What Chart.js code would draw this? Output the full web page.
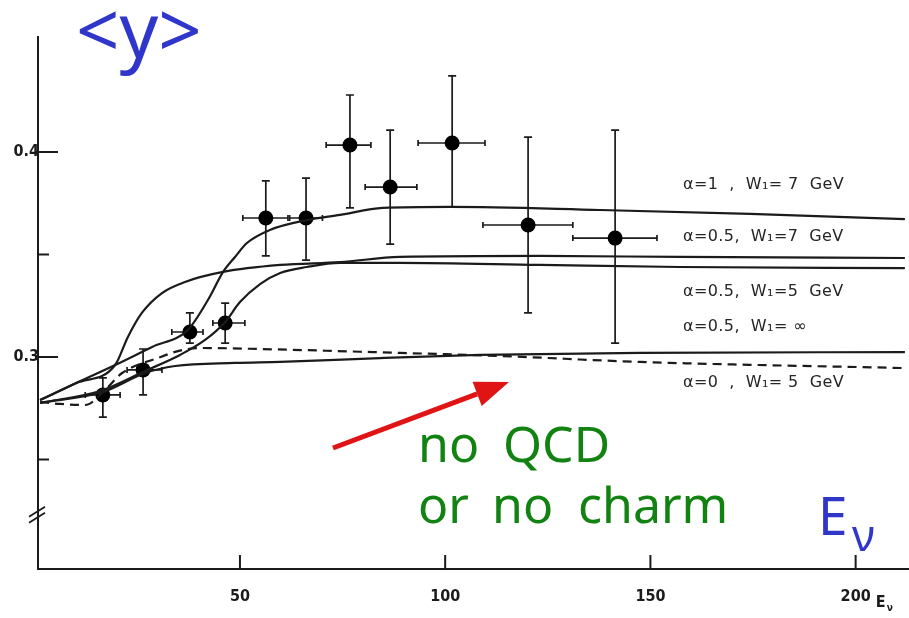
<!DOCTYPE html>
<html>
<head>
<meta charset="utf-8">
<script src="https://cdn.jsdelivr.net/npm/chart.js@4.4.1/dist/chart.umd.min.js"></script>
<style>
  html, body { margin: 0; padding: 0; background: #fff; }
  #wrap { width: 909px; height: 618px; position: relative; }
</style>
</head>
<body>
<div id="wrap"><canvas id="chart"></canvas></div>
<script>
// ===== Data =====
const xTicks = [50, 100, 150, 200];
const yTicks = [0.3, 0.4];
const yMinorTicks = [0.25, 0.35];
const yBreakValue = 0.2245;

// measured <y> points with their error bars
const pointE = [16.6, 26.4, 37.8, 46.4, 56.3, 66.1, 76.8, 86.6, 101.7, 120.2, 141.4];
const pointY = [0.2815, 0.2937, 0.3122, 0.3166, 0.3678, 0.3678, 0.4034, 0.3829, 0.4044, 0.3644, 0.3580];
const errYLow = [0.2707, 0.2815, 0.3068, 0.3068, 0.3493, 0.3473, 0.3727, 0.3551, 0.3732, 0.3215, 0.3068];
const errYHigh = [0.2898, 0.3039, 0.3215, 0.3263, 0.3859, 0.3873, 0.4278, 0.4107, 0.4371, 0.4073, 0.4107];
const errELow = [12.3, 22.5, 33.4, 43.4, 50.7, 62.1, 71.0, 80.5, 93.4, 109.2, 131.1];
const errEHigh = [20.8, 31.0, 41.0, 51.2, 61.7, 70.1, 81.9, 93.1, 109.7, 131.1, 151.6];

// model curves
const alpha1W7E = [1.3, 10.0, 19.6, 28.6, 37.3, 42.2, 45.9, 48.8, 51.7, 57.3, 66.3, 74.4, 84.8, 101.2, 137.7, 174.3, 212.0];
const alpha1W7Y = [0.2790, 0.2872, 0.2961, 0.3049, 0.3132, 0.3278, 0.3415, 0.3488, 0.3556, 0.3620, 0.3668, 0.3693, 0.3727, 0.3732, 0.3717, 0.3698, 0.3673];

const alpha05W7E = [1.3, 10.0, 19.6, 22.7, 26.1, 31.0, 36.6, 45.9, 59.8, 74.4, 89.0, 123.1, 157.2, 212.0];
const alpha05W7Y = [0.2790, 0.2872, 0.2961, 0.3098, 0.3215, 0.3312, 0.3366, 0.3415, 0.3449, 0.3463, 0.3488, 0.3493, 0.3488, 0.3483];

const alpha05W5E = [1.3, 15.9, 26.9, 35.4, 41.5, 46.4, 50.0, 54.9, 59.8, 66.3, 74.4, 89.0, 123.1, 157.2, 212.0];
const alpha05W5Y = [0.2776, 0.2834, 0.2932, 0.3010, 0.3083, 0.3171, 0.3268, 0.3356, 0.3410, 0.3439, 0.3459, 0.3459, 0.3449, 0.3439, 0.3434];

const alpha05WinfE = [1.3, 6.2, 12.3, 17.1, 21.3, 30.0, 35.9, 40.8, 54.9, 89.0, 113.4, 147.5, 212.0];
const alpha05WinfY = [0.2780, 0.2771, 0.2766, 0.2839, 0.2922, 0.2995, 0.3034, 0.3044, 0.3039, 0.3020, 0.3005, 0.2976, 0.2946];

const alpha0W5E = [1.3, 16.6, 26.9, 34.2, 48.8, 59.8, 84.1, 108.5, 147.5, 212.0];
const alpha0W5Y = [0.2776, 0.2829, 0.2922, 0.2956, 0.2971, 0.2976, 0.2995, 0.3010, 0.3020, 0.3024];

const curveLabels = [
  { text: 'α=1  ,  W₁= 7  GeV', x: 683, y: 185 },
  { text: 'α=0.5,  W₁=7  GeV', x: 683, y: 237 },
  { text: 'α=0.5,  W₁=5  GeV', x: 683, y: 292 },
  { text: 'α=0.5,  W₁= ∞', x: 683, y: 327 },
  { text: 'α=0  ,  W₁= 5  GeV', x: 683, y: 383 },
];

const INK = '#1b1b1b';
const BLUE = '#2f36c9';
const GREEN = '#128212';
const RED = '#e01414';
const SCAN_FONT = '"DejaVu Sans Condensed", "Liberation Sans Narrow", "DejaVu Sans", sans-serif';

function toPoints(xs, ys) {
  return xs.map((x, i) => ({ x, y: ys[i] }));
}

function curveDataset(label, xs, ys, dash) {
  return {
    label,
    data: toPoints(xs, ys),
    showLine: true,
    borderColor: INK,
    borderWidth: 2.2,
    borderDash: dash || [],
    pointRadius: 0,
    fill: false,
    cubicInterpolationMode: 'monotone',
  };
}

// ===== Extra drawing: error bars, inner ticks, annotations =====
const scanDecor = {
  id: 'scanDecor',
  beforeDatasetsDraw(chart) {
    const { ctx, scales: { x, y } } = chart;
    ctx.save();
    ctx.strokeStyle = INK;
    ctx.lineWidth = 1.7;
    pointE.forEach((e, i) => {
      const px = x.getPixelForValue(e);
      const py = y.getPixelForValue(pointY[i]);
      const yTop = y.getPixelForValue(errYHigh[i]);
      const yBot = y.getPixelForValue(errYLow[i]);
      const xL = x.getPixelForValue(errELow[i]);
      const xR = x.getPixelForValue(errEHigh[i]);
      ctx.beginPath();
      ctx.moveTo(px, yTop); ctx.lineTo(px, yBot);
      ctx.moveTo(px - 4, yTop); ctx.lineTo(px + 4, yTop);
      ctx.moveTo(px - 4, yBot); ctx.lineTo(px + 4, yBot);
      ctx.moveTo(xL, py); ctx.lineTo(xR, py);
      ctx.moveTo(xL, py - 3); ctx.lineTo(xL, py + 3);
      ctx.moveTo(xR, py - 3); ctx.lineTo(xR, py + 3);
      ctx.stroke();
    });
    ctx.restore();
  },
  afterDraw(chart) {
    const { ctx, chartArea, scales: { x, y } } = chart;
    ctx.save();
    ctx.strokeStyle = INK;
    ctx.lineWidth = 2;

    // ticks pointing into the plot
    ctx.beginPath();
    xTicks.forEach((v) => {
      const px = x.getPixelForValue(v);
      ctx.moveTo(px, chartArea.bottom);
      ctx.lineTo(px, chartArea.bottom - 14);
    });
    yTicks.forEach((v) => {
      const py = y.getPixelForValue(v);
      ctx.moveTo(chartArea.left - 3, py);
      ctx.lineTo(chartArea.left + 20, py);
    });
    yMinorTicks.forEach((v) => {
      const py = y.getPixelForValue(v);
      ctx.moveTo(chartArea.left, py);
      ctx.lineTo(chartArea.left + 11, py);
    });
    ctx.stroke();

    // axis break
    const pb = y.getPixelForValue(yBreakValue);
    ctx.lineWidth = 1.8;
    ctx.beginPath();
    ctx.moveTo(chartArea.left - 9, pb + 5); ctx.lineTo(chartArea.left + 7, pb - 5);
    ctx.moveTo(chartArea.left - 9, pb + 11); ctx.lineTo(chartArea.left + 7, pb + 1);
    ctx.stroke();

    // E_nu next to the 200 tick label
    const p200 = x.getPixelForValue(200);
    ctx.fillStyle = INK;
    ctx.textBaseline = 'middle';
    ctx.textAlign = 'left';
    ctx.font = `bold 16px ${SCAN_FONT}`;
    ctx.fillText('E', p200 + 20, 603);
    ctx.font = `bold 10px ${SCAN_FONT}`;
    ctx.fillText('ν', p200 + 31, 608);

    // curve labels
    ctx.font = '16px "DejaVu Sans", sans-serif';
    ctx.letterSpacing = '0.4px';
    ctx.fillStyle = '#262626';
    curveLabels.forEach((l) => ctx.fillText(l.text, l.x, l.y));
    ctx.letterSpacing = '0px';

    // overlay annotations
    ctx.textBaseline = 'alphabetic';
    ctx.fillStyle = BLUE;
    ctx.font = '76px "Noto Sans", sans-serif';
    ctx.fillText('<y>', 76, 58);
    ctx.font = '53px "Noto Sans", sans-serif';
    ctx.fillText('E', 818, 535);
    ctx.font = '44px "Noto Sans", sans-serif';
    ctx.fillText('ν', 852, 551);

    ctx.fillStyle = GREEN;
    ctx.font = '50px "Noto Sans", sans-serif';
    ctx.fillText('no', 418, 462);
    ctx.fillText('QCD', 503, 462);
    ctx.fillText('or', 418, 523);
    ctx.fillText('no', 492, 523);
    ctx.fillText('charm', 578, 523);

    // red arrow
    const x0 = 333, y0 = 448, x1 = 509, y1 = 382;
    const len = Math.hypot(x1 - x0, y1 - y0);
    const ux = (x1 - x0) / len, uy = (y1 - y0) / len;
    const bx = x1 - ux * 34, by = y1 - uy * 34;
    ctx.strokeStyle = RED;
    ctx.fillStyle = RED;
    ctx.lineWidth = 5;
    ctx.beginPath();
    ctx.moveTo(x0, y0); ctx.lineTo(bx, by);
    ctx.stroke();
    ctx.beginPath();
    ctx.moveTo(x1, y1);
    ctx.lineTo(bx - uy * 13, by + ux * 13);
    ctx.lineTo(bx + uy * 13, by - ux * 13);
    ctx.closePath();
    ctx.fill();
    ctx.restore();
  },
};

// ===== Chart =====
new Chart(document.getElementById('chart'), {
  type: 'scatter',
  data: {
    datasets: [
      curveDataset('α=1, W1=7 GeV', alpha1W7E, alpha1W7Y),
      curveDataset('α=0.5, W1=7 GeV', alpha05W7E, alpha05W7Y),
      curveDataset('α=0.5, W1=5 GeV', alpha05W5E, alpha05W5Y),
      curveDataset('α=0.5, W1=∞', alpha05WinfE, alpha05WinfY, [9, 6]),
      curveDataset('α=0, W1=5 GeV', alpha0W5E, alpha0W5Y),
      {
        label: 'data',
        data: toPoints(pointE, pointY),
        pointRadius: 7.5,
        pointBackgroundColor: '#000',
        pointBorderWidth: 0,
        showLine: false,
      },
    ],
  },
  options: {
    responsive: true,
    maintainAspectRatio: false,
    animation: false,
    layout: { autoPadding: false, padding: { top: 37, right: 0, left: 0, bottom: 0 } },
    plugins: { legend: { display: false }, tooltip: { enabled: false } },
    scales: {
      x: {
        type: 'linear',
        min: 0.8,
        max: 213,
        afterBuildTicks: (scale) => { scale.ticks = xTicks.map((v) => ({ value: v })); },
        afterFit: (scale) => { scale.height = 49; },
        grid: { drawOnChartArea: false, drawTicks: false },
        border: { color: INK, width: 2 },
        ticks: {
          padding: 18,
          color: INK,
          maxRotation: 0,
          font: { family: SCAN_FONT, size: 16, weight: 'bold' },
        },
      },
      y: {
        type: 'linear',
        min: 0.19659,
        max: 0.4561,
        afterBuildTicks: (scale) => { scale.ticks = yTicks.map((v) => ({ value: v })); },
        afterFit: (scale) => { scale.width = 38; },
        grid: { drawOnChartArea: false, drawTicks: false },
        border: { color: INK, width: 2 },
        ticks: {
          padding: -1,
          color: INK,
          callback: (v) => v.toFixed(1),
          font: { family: SCAN_FONT, size: 16, weight: 'bold' },
        },
      },
    },
  },
  plugins: [scanDecor],
});
</script>
</body>
</html>
